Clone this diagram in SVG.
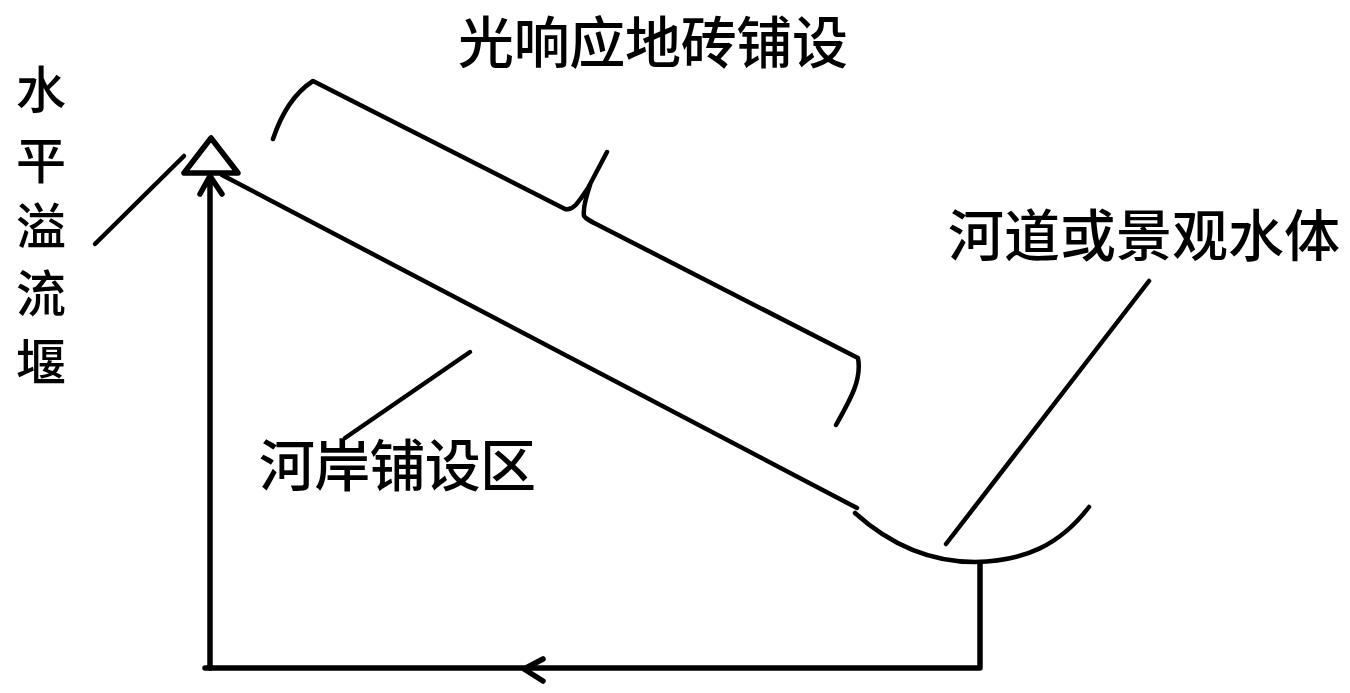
<svg xmlns="http://www.w3.org/2000/svg" width="1350" height="693" viewBox="0 0 1350 693">
<style>
.l{fill:none;stroke:#000;stroke-width:4.5;stroke-linecap:round;stroke-linejoin:round}
.t{stroke-width:5.5}
text{font-family:"Noto Sans CJK SC","Liberation Sans",sans-serif;font-size:50px;font-weight:500;fill:#000}
.h{font-size:56px}
</style>
<rect width="1350" height="693" fill="#fff"/>
<g id="connectors">
<path class="l t" d="M210 668V176M200 194L210 176L222 194"/>
<path class="l t" d="M980 563V668H205"/>
<path class="l t" d="M543 659L524 669L543 681"/>
<path class="l" d="M222 175L857 508"/>
<path class="l" d="M855 513C885 540 925 562 975 562C1025 561 1060 545 1089 507"/>
<path class="l" d="M95 244L184 156"/>
<path class="l" d="M345 438L470 352"/>
<path class="l" d="M946 544L1149 281"/>
</g>
<g id="brace">
<path class="l" d="M273 139C282 112 296 92 313 81L565 209C573 211 578 203 588 188L607 152"/>
<path class="l" d="M590 185C585 200 583 210 584 216C586 219 590 221 600 226L858 358C862 380 850 400 836 425"/>
</g>
<g id="weir"><path class="l t" d="M211 138L184 173H238Z"/></g>
<g id="label-paving"><text class="h" x="458" y="63" textLength="390" lengthAdjust="spacing">光响应地砖铺设</text></g>
<g id="label-river"><text class="h" x="948" y="256" textLength="392" lengthAdjust="spacing">河道或景观水体</text></g>
<g id="label-bank"><text class="h" x="259" y="486" textLength="277" lengthAdjust="spacing">河岸铺设区</text></g>
<g id="label-weir">
<text x="16" y="108">水</text><text x="16" y="179">平</text><text x="16" y="245">溢</text><text x="16" y="312">流</text><text x="16" y="381">堰</text>
</g>
</svg>
